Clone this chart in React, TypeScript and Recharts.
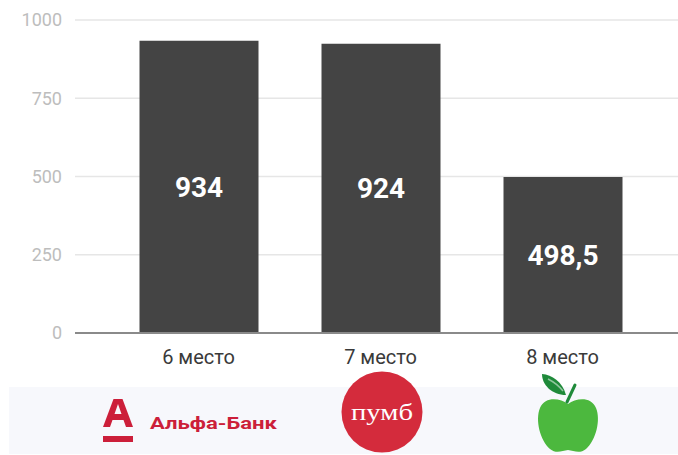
import React from "react";
import { BarChart, Bar, XAxis, YAxis, CartesianGrid, LabelList } from "recharts";

const categories = ["6 место", "7 место", "8 место"];
const values = [934, 924, 498.5];
const yTicks = [0, 250, 500, 750, 1000];
const banks = ["Альфа-Банк", "пумб", "apple"];

const data = categories.map((c, i) => ({ name: c, value: values[i], bank: banks[i] }));

const FONT = "Roboto, 'Noto Sans', Arial, sans-serif";

const AlfaLogo = () => (
  <g>
    <path
      fillRule="evenodd"
      fill="#cc1f3a"
      d="M-95.5 94 L-85 66 L-76 66 L-65.5 94 L-72.5 94 L-75 87 L-86 87 L-88.5 94 Z M-84 81 L-77 81 L-80.5 71 Z"
    />
    <rect x={-95.5} y={103} width={30} height={6} fill="#cc1f3a" />
    <text
      x={-48.5}
      y={95.5}
      fill="#cc1f3a"
      fontFamily={FONT}
      fontWeight={700}
      fontSize={17}
      textLength={127}
      lengthAdjust="spacingAndGlyphs"
    >
      Альфа-Банк
    </text>
  </g>
);

const PumbLogo = () => (
  <g transform="translate(1.5,0)">
    <circle cx={0} cy={79} r={40.5} fill="#d42b3c" />
    <text
      x={0}
      y={87}
      textAnchor="middle"
      fill="#ffffff"
      fontFamily="'Liberation Serif', 'DejaVu Serif', serif"
      fontSize={24}
      textLength={62}
      lengthAdjust="spacingAndGlyphs"
    >
      пумб
    </text>
  </g>
);

const AppleLogo = () => (
  <g transform="translate(5.5,0)">
    <path
      fill="#4cb83e"
      d="M0 71 C -8 65, -23 63, -28 75 C -33 87, -28 107, -18 116 C -12 121, -6 118, 0 117 C 6 118, 12 121, 18 116 C 28 107, 33 87, 28 75 C 23 63, 8 65, 0 71 Z"
    />
    <path d="M-1 69 L7 52" stroke="#1f8a3a" strokeWidth={3} fill="none" strokeLinecap="round" />
    <path fill="#1f8a3a" d="M-2 62 C -6 48, -16 42, -26 41 C -26 52, -16 62, -2 62 Z" />
    <path d="M-20 46 C -14 49, -9 53, -5 58" stroke="#ffffff" strokeOpacity={0.5} strokeWidth={1.5} fill="none" />
  </g>
);

const CustomTick = (props: any) => {
  const { x, y, payload, index } = props;
  const bank = data[index]?.bank;
  return (
    <g transform={`translate(${x},${y})`}>
      <text
        x={0}
        y={31}
        textAnchor="middle"
        fill="#3a3a3a"
        fontFamily={FONT}
        fontSize={20}
      >
        {payload.value}
      </text>
      {bank === "Альфа-Банк" && <AlfaLogo />}
      {bank === "пумб" && <PumbLogo />}
      {bank === "apple" && <AppleLogo />}
    </g>
  );
};

export default function App() {
  return (
    <div style={{ position: "absolute", left: 0, top: 0, width: 678, height: 455, background: "#ffffff" }}>
      <div
        style={{
          position: "absolute",
          left: 9,
          top: 387,
          width: 669,
          height: 67,
          background: "#f7f8fc",
        }}
      />
      <div style={{ position: "absolute", left: 0, top: 0 }}>
        <BarChart
          width={678}
          height={455}
          data={data}
          margin={{ top: 20, right: 0, left: 0, bottom: 0 }}
        >
          <CartesianGrid vertical={false} stroke="#e6e6e6" strokeWidth={1.5} />
          <XAxis
            dataKey="name"
            height={122}
            padding={{ left: 32.5, right: 24.5 }}
            axisLine={{ stroke: "#8a8a8a", strokeWidth: 2 }}
            tickLine={false}
            tickSize={0}
            tickMargin={0}
            interval={0}
            tick={<CustomTick />}
          />
          <YAxis
            width={75}
            domain={[0, 1000]}
            ticks={yTicks}
            axisLine={false}
            tickLine={false}
            tickSize={0}
            tickMargin={13}
            tick={{ fill: "#bdbdbd", fontSize: 18, fontFamily: FONT }}
          />
          <Bar dataKey="value" fill="#444444" barSize={119} isAnimationActive={false}>
            <LabelList
              dataKey="value"
              position="center"
              formatter={(v: any) => String(v).replace(".", ",")}
              fill="#ffffff"
              fontFamily={FONT}
              fontWeight={700}
              fontSize={28}
            />
          </Bar>
        </BarChart>
      </div>
    </div>
  );
}
